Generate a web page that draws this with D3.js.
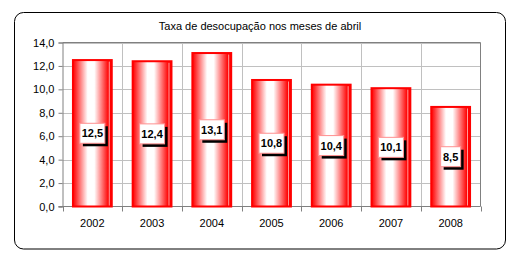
<!DOCTYPE html>
<html><head><meta charset="utf-8">
<script src="https://cdn.jsdelivr.net/npm/d3@7"></script>
<style>
html,body{margin:0;padding:0;background:#fff;}
svg{display:block;font-family:Arial,"Liberation Sans",sans-serif;}
</style></head>
<body>
<svg id="c" width="524" height="263"></svg>
<script>
const title = "Taxa de desocupação nos meses de abril";
const categories = ["2002","2003","2004","2005","2006","2007","2008"];
const values = [12.5, 12.4, 13.1, 10.8, 10.4, 10.1, 8.5];
const yTicks = [0,2,4,6,8,10,12,14];

const svg = d3.select("#c");
const fmt = v => d3.format(".1f")(v).replace(".", ",");

// outer rounded frame
svg.append("rect").attr("x",14.5).attr("y",12.5).attr("width",491).attr("height",236.5)
  .attr("rx",9).attr("ry",9).attr("fill","#fff").attr("stroke","#000").attr("stroke-width",1);

svg.append("text").attr("x",260).attr("y",30).attr("text-anchor","middle")
  .attr("font-size","11px").attr("fill","#000").text(title);

const L = 62.5, R = 480.5, T = 42.5, B = 206.5;
const x = d3.scaleBand().domain(categories).range([L, R]).paddingInner(0).paddingOuter(0);
const y = d3.scaleLinear().domain([0,14]).range([B, T]);

const defs = svg.append("defs");
const g = defs.append("linearGradient").attr("id","barGrad").attr("x1","0").attr("x2","1").attr("y1","0").attr("y2","0");
[[0,"#ff0000"],[0.08,"#ff3030"],[0.38,"#ffffff"],[0.55,"#ffffff"],[0.92,"#ff0000"],[1,"#ff0000"]]
  .forEach(([o,c]) => g.append("stop").attr("offset",o).attr("stop-color",c));

// gridlines
svg.append("g").selectAll("line").data(yTicks.filter(d=>d>0)).join("line")
  .attr("x1",L).attr("x2",R).attr("y1",d=>Math.round(y(d))+0.5).attr("y2",d=>Math.round(y(d))+0.5)
  .attr("stroke","#c0c0c0");
svg.append("g").selectAll("line").data(categories.slice(1)).join("line")
  .attr("x1",d=>Math.round(x(d))+0.5).attr("x2",d=>Math.round(x(d))+0.5).attr("y1",T).attr("y2",B)
  .attr("stroke","#c0c0c0");
// plot border top/right
svg.append("path").attr("d",`M${L},${T}H${R}V${B}`).attr("fill","none").attr("stroke","#808080");

// axes
const yAxis = d3.axisLeft(y).tickValues(yTicks).tickFormat(fmt).tickSize(4).tickPadding(4);
const ya = svg.append("g").attr("transform",`translate(${L},0)`).call(yAxis);
ya.select(".domain").attr("stroke","#808080");
ya.selectAll(".tick line").attr("stroke","#808080");
ya.selectAll("text").attr("font-size","11px").attr("fill","#000").attr("font-family","Arial, 'Liberation Sans', sans-serif");

const xa = svg.append("g").attr("transform",`translate(0,${B})`);
xa.append("line").attr("x1",L-4).attr("x2",R).attr("y1",0).attr("y2",0).attr("stroke","#808080");
xa.selectAll("line.t").data(categories.concat(["end"])).join("line").attr("class","t")
  .attr("x1",(d,i)=>Math.round(L + i*x.bandwidth())+0.5).attr("x2",(d,i)=>Math.round(L + i*x.bandwidth())+0.5)
  .attr("y1",0).attr("y2",5).attr("stroke","#808080");
xa.selectAll("text").data(categories).join("text")
  .attr("x",d=>x(d)+x.bandwidth()/2).attr("y",20).attr("text-anchor","middle")
  .attr("font-size","11px").attr("fill","#000").text(d=>d);

// bars
const bw = x.bandwidth()*0.65;
const bars = svg.append("g").selectAll("g").data(values).join("g");
bars.append("rect")
  .attr("x",(d,i)=>x(categories[i])+(x.bandwidth()-bw)/2).attr("y",d=>y(d))
  .attr("width",bw).attr("height",d=>B-y(d))
  .attr("fill","url(#barGrad)").attr("stroke","#ff0000").attr("stroke-width",2);
bars.append("line")
  .attr("x1",(d,i)=>x(categories[i])+(x.bandwidth()+bw)/2-2.5).attr("x2",(d,i)=>x(categories[i])+(x.bandwidth()+bw)/2-2.5)
  .attr("y1",d=>y(d)+1.5).attr("y2",B-1).attr("stroke","#fff").attr("stroke-width",0.8).attr("opacity",0.8);

// labels
const labels = svg.append("g").selectAll("g").data(values).join("g")
  .attr("transform",(d,i)=>`translate(${x(categories[i])+x.bandwidth()/2},${y(d/2)})`);
labels.each(function(d){
  const gg = d3.select(this);
  const t = fmt(d);
  const w = t.length===4 ? 25 : 20, h = 20;
  gg.append("rect").attr("x",-w/2+3).attr("y",-h/2+3).attr("width",w).attr("height",h).attr("fill","#000");
  gg.append("rect").attr("x",-w/2).attr("y",-h/2).attr("width",w).attr("height",h)
    .attr("fill","#fff").attr("stroke","#ff9090").attr("stroke-width",1);
  gg.append("text").attr("x",0).attr("y",4).attr("text-anchor","middle")
    .attr("font-size","11px").attr("font-weight","bold").attr("fill","#000").text(t);
});
</script>
</body></html>
